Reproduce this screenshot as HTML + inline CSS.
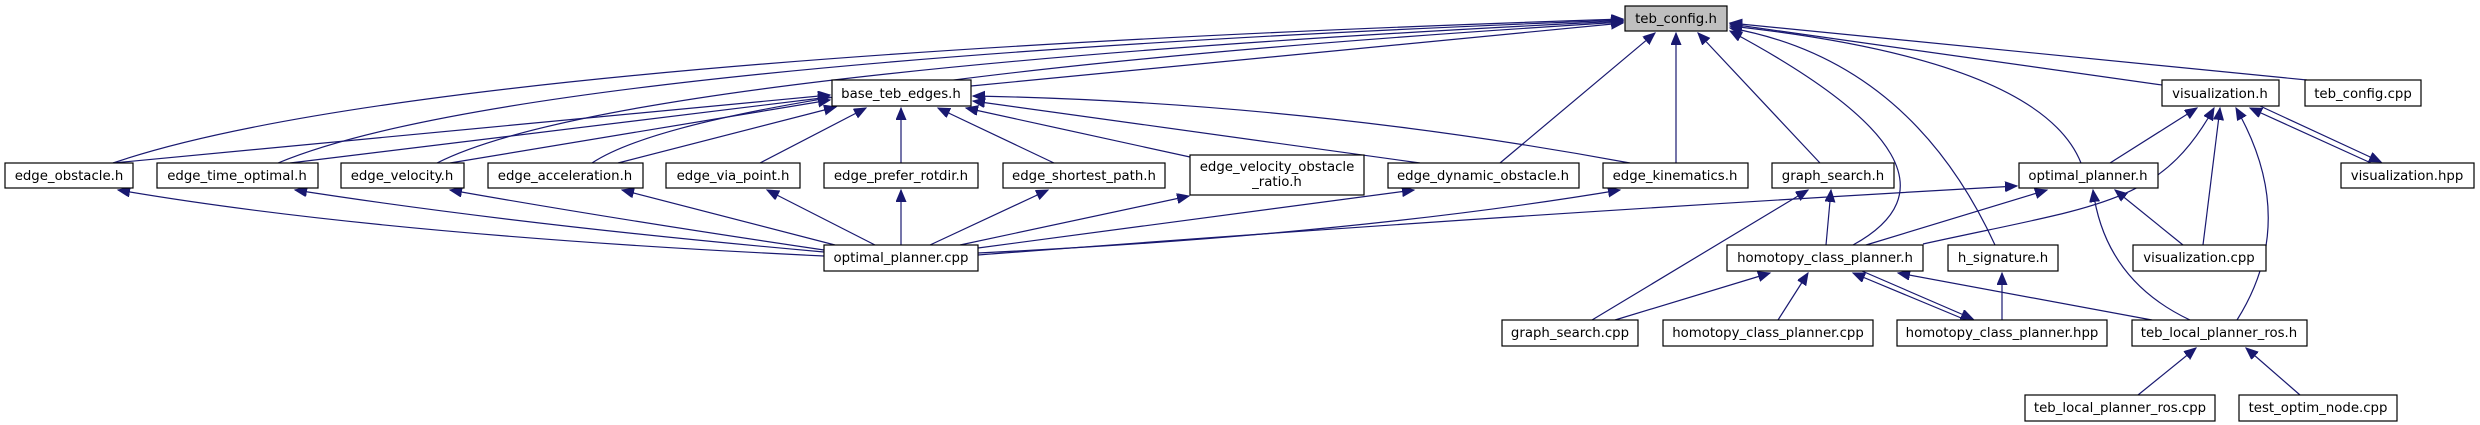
<!DOCTYPE html>
<html><head><meta charset="utf-8"><style>
html,body{margin:0;padding:0;background:#fff;}
svg{display:block}
text{font-family:"DejaVu Sans","Liberation Sans",sans-serif;font-size:13.3px;fill:#000;text-anchor:middle}
.n{fill:#fff;stroke:#000;stroke-width:1.2}
.e{fill:none;stroke:#191970;stroke-width:1.2}
</style></head><body>
<svg width="2480" height="425" viewBox="0 0 2480 425" xmlns="http://www.w3.org/2000/svg">
<defs>
<marker id="a" markerUnits="userSpaceOnUse" markerWidth="14" markerHeight="12" refX="12" refY="5" orient="auto">
<path d="M0,0 L12,5 L0,10 Z" fill="#191970" stroke="#191970"/>
</marker>
</defs>
<g marker-end="url(#a)">
<!-- to teb_config.h -->
<path class="e" d="M113,163 Q420,58 1623,19"/>
<path class="e" d="M278,163 Q520,62 1623,20"/>
<path class="e" d="M437,163 Q620,70 1623,21"/>
<path class="e" d="M592,163 Q720,78 1623,22"/>
<path class="e" d="M971,86 L1623,23"/>
<path class="e" d="M1500,163 L1655,33"/>
<path class="e" d="M1676,163 L1676,33"/>
<path class="e" d="M1820,163 L1698,33"/>
<path class="e" d="M1853,245 Q1990,170 1730,31"/>
<path class="e" d="M1995,245 Q1910,60 1730,28"/>
<path class="e" d="M2081,163 Q2040,60 1730,26"/>
<path class="e" d="M2162,85 L1730,24"/>
<path class="e" d="M2307,80 L1730,23"/>
<!-- to base_teb_edges.h -->
<path class="e" d="M113,163 L830,95"/>
<path class="e" d="M290,163 L830,97"/>
<path class="e" d="M450,163 L830,100"/>
<path class="e" d="M618,163 L836,107"/>
<path class="e" d="M760,163 L866,108"/>
<path class="e" d="M901,163 L901,108"/>
<path class="e" d="M1054,163 L938,108"/>
<path class="e" d="M1190,157 L966,108"/>
<path class="e" d="M1420,163 L973,101"/>
<path class="e" d="M1630,163 Q1300,102 973,96"/>
<!-- to edge_* from optimal_planner.cpp -->
<path class="e" d="M824,256 Q380,235 118,190"/>
<path class="e" d="M824,252 Q520,225 295,190"/>
<path class="e" d="M824,250 Q620,220 450,190"/>
<path class="e" d="M835,245 L622,190"/>
<path class="e" d="M875,245 L767,190"/>
<path class="e" d="M901,245 L901,190"/>
<path class="e" d="M930,245 L1048,190"/>
<path class="e" d="M960,245 L1189,196"/>
<path class="e" d="M978,248 L1414,190"/>
<path class="e" d="M978,253 Q1350,235 1620,190"/>
<path class="e" d="M978,255 Q1500,215 2017,186"/>
<!-- graph_search.h -->
<path class="e" d="M1592,320 L1808,190"/>
<path class="e" d="M1826,245 L1831,190"/>
<!-- optimal_planner.h -->
<path class="e" d="M1866,245 L2047,190"/>
<path class="e" d="M2183,245 L2115,190"/>
<path class="e" d="M2190,320 Q2105,280 2093,190"/>
<!-- visualization.h -->
<path class="e" d="M2110,163 L2197,108"/>
<path class="e" d="M1923,244 C2100,205 2160,205 2214,108"/>
<path class="e" d="M2203,245 L2220,108"/>
<path class="e" d="M2237,320 Q2300,220 2236,108"/>
<path class="e" d="M2371,163 L2250,108"/>
<path class="e" d="M2260,106 L2381,162"/>
<!-- homotopy_class_planner.h -->
<path class="e" d="M1615,320 L1770,273"/>
<path class="e" d="M1778,320 L1808,273"/>
<path class="e" d="M1966,320 L1853,273"/>
<path class="e" d="M1862,271 L1973,319"/>
<path class="e" d="M2152,320 L1898,273"/>
<!-- h_signature.h -->
<path class="e" d="M2002,320 L2002,273"/>
<!-- teb_local_planner_ros.h -->
<path class="e" d="M2138,395 L2196,348"/>
<path class="e" d="M2300,395 L2246,348"/>
</g>

<rect x="1625" y="6" width="102" height="25" fill="#bfbfbf" stroke="#000" stroke-width="1.2"/><text x="1676" y="23">teb_config.h</text>
<rect class="n" x="832" y="80" width="139" height="26"/><text x="901" y="98">base_teb_edges.h</text>
<rect class="n" x="2162" y="80" width="117" height="26"/><text x="2220" y="98">visualization.h</text>
<rect class="n" x="2305" y="80" width="116" height="26"/><text x="2363" y="98">teb_config.cpp</text>

<rect class="n" x="5" y="163" width="128" height="25"/><text x="69" y="180">edge_obstacle.h</text>
<rect class="n" x="157" y="163" width="161" height="25"/><text x="237" y="180">edge_time_optimal.h</text>
<rect class="n" x="341" y="163" width="123" height="25"/><text x="402" y="180">edge_velocity.h</text>
<rect class="n" x="488" y="163" width="155" height="25"/><text x="565" y="180">edge_acceleration.h</text>
<rect class="n" x="666" y="163" width="134" height="25"/><text x="733" y="180">edge_via_point.h</text>
<rect class="n" x="824" y="163" width="154" height="25"/><text x="901" y="180">edge_prefer_rotdir.h</text>
<rect class="n" x="1003" y="163" width="162" height="25"/><text x="1084" y="180">edge_shortest_path.h</text>
<rect class="n" x="1190" y="155" width="174" height="40"/><text x="1277" y="171">edge_velocity_obstacle</text><text x="1277" y="186">_ratio.h</text>
<rect class="n" x="1388" y="163" width="191" height="25"/><text x="1483" y="180">edge_dynamic_obstacle.h</text>
<rect class="n" x="1603" y="163" width="145" height="25"/><text x="1675" y="180">edge_kinematics.h</text>
<rect class="n" x="1772" y="163" width="122" height="25"/><text x="1833" y="180">graph_search.h</text>
<rect class="n" x="2019" y="163" width="139" height="25"/><text x="2088" y="180">optimal_planner.h</text>
<rect class="n" x="2341" y="163" width="133" height="25"/><text x="2407" y="180">visualization.hpp</text>

<rect class="n" x="824" y="245" width="154" height="26"/><text x="901" y="262">optimal_planner.cpp</text>
<rect class="n" x="1727" y="245" width="196" height="26"/><text x="1825" y="262">homotopy_class_planner.h</text>
<rect class="n" x="1948" y="245" width="110" height="26"/><text x="2003" y="262">h_signature.h</text>
<rect class="n" x="2133" y="245" width="133" height="26"/><text x="2199" y="262">visualization.cpp</text>

<rect class="n" x="1502" y="320" width="136" height="26"/><text x="1570" y="337">graph_search.cpp</text>
<rect class="n" x="1663" y="320" width="210" height="26"/><text x="1768" y="337">homotopy_class_planner.cpp</text>
<rect class="n" x="1897" y="320" width="210" height="26"/><text x="2002" y="337">homotopy_class_planner.hpp</text>
<rect class="n" x="2132" y="320" width="175" height="26"/><text x="2219" y="337">teb_local_planner_ros.h</text>

<rect class="n" x="2025" y="395" width="190" height="26"/><text x="2120" y="412">teb_local_planner_ros.cpp</text>
<rect class="n" x="2239" y="395" width="158" height="26"/><text x="2318" y="412">test_optim_node.cpp</text>
</svg>
</body></html>
